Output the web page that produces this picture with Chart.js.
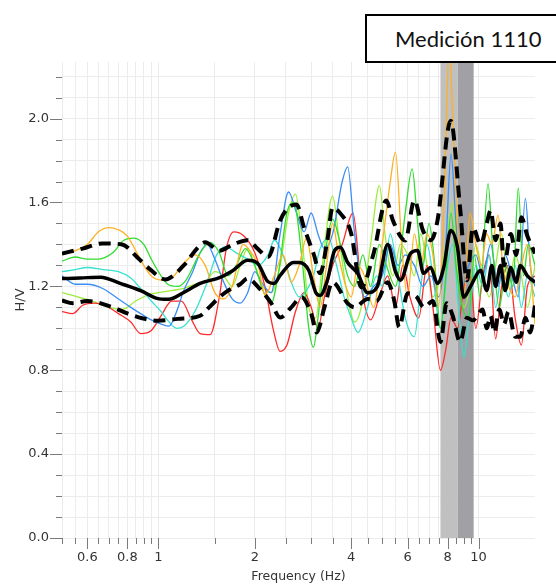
<!DOCTYPE html>
<html><head><meta charset="utf-8">
<script src="https://cdn.jsdelivr.net/npm/chart.js@4/dist/chart.umd.min.js"></script>
<style>
html,body{margin:0;padding:0;background:#fff;overflow:hidden;}
#wrap{position:relative;width:556px;height:588px;}
#legendBox{position:absolute;left:365px;top:14px;width:220px;height:45px;border:2px solid #000;background:#fff;font-family:Lato,"Open Sans",sans-serif;font-size:22px;line-height:45px;padding-left:28px;color:#111;white-space:nowrap;}
</style></head>
<body>
<div id="wrap"><canvas id="c" width="556" height="588"></canvas><div id="legendBox">Medición 1110</div></div>
<script>
// ---- data ----
const xTickVals = [0.5,0.55,0.6,0.65,0.7,0.75,0.8,0.85,0.9,0.95,1,1.5,2,2.5,3,3.5,4,4.5,5,5.5,6,6.5,7,7.5,8,8.5,9,9.5,10];
const xLabels = [0.6,0.8,1,2,4,6,8,10];
const yTickVals = [0,0.1,0.2,0.3,0.4,0.5,0.6,0.7,0.8,0.9,1.0,1.1,1.2,1.3,1.4,1.5,1.6,1.7,1.8,1.9,2.0,2.1,2.2];
const yLabels = [0,0.4,0.8,1.2,1.6,2.0];
const bandEdges = [7.6,8.6,9.65];

const meanF = [0.5,0.57,0.66,0.76,0.88,0.99,1.075,1.2,1.35,1.56,1.71,1.9,2.04,2.2,2.3,2.4,2.64,2.75,2.95,3.1,3.2,3.37,3.55,3.7,3.9,4.19,4.5,4.83,5.2,5.5,5.7,6.13,6.45,6.73,7.08,7.44,7.78,8.18,8.59,8.98,9.44,10.15,10.6,11.0,11.3,11.7,12.1,12.6,13.1,13.5,14.2,15];
const meanV = [1.237,1.24,1.244,1.214,1.18,1.143,1.138,1.171,1.214,1.243,1.276,1.324,1.31,1.222,1.214,1.252,1.314,1.314,1.276,1.171,1.157,1.229,1.371,1.386,1.314,1.262,1.17,1.2,1.40,1.27,1.229,1.357,1.371,1.262,1.29,1.214,1.29,1.467,1.386,1.148,1.2,1.276,1.18,1.3,1.2,1.3,1.18,1.29,1.22,1.30,1.25,1.22];

const upF = [0.5,0.58,0.67,0.77,0.86,0.95,1.05,1.2,1.33,1.4,1.55,1.71,1.9,2.04,2.2,2.4,2.55,2.7,2.85,3.05,3.2,3.37,3.5,3.7,4.0,4.3,4.7,5.15,5.4,5.9,6.3,6.7,7.1,7.44,8.18,8.75,9.2,9.6,10.15,10.6,10.9,11.3,11.7,12.0,12.6,13.1,13.6,14.2,15];
const upV = [1.357,1.38,1.405,1.40,1.338,1.276,1.233,1.30,1.386,1.41,1.37,1.40,1.42,1.38,1.34,1.514,1.576,1.59,1.48,1.357,1.262,1.42,1.576,1.548,1.452,1.195,1.357,1.61,1.514,1.419,1.61,1.467,1.42,1.514,1.99,1.576,1.229,1.48,1.40,1.50,1.562,1.42,1.50,1.30,1.45,1.35,1.53,1.44,1.357];

const loF = [0.5,0.54,0.6,0.72,0.8,0.89,1.0,1.15,1.35,1.44,1.55,1.65,1.8,1.9,2.04,2.25,2.4,2.6,2.8,3.0,3.12,3.3,3.5,3.9,4.1,4.5,4.8,5.2,5.45,5.65,6.0,6.4,6.75,7.2,7.6,7.95,8.3,8.75,9.2,9.6,10.3,10.6,10.9,11.2,11.6,12.0,12.4,13.0,13.5,14.0,14.5,15];
const loV = [1.133,1.12,1.13,1.10,1.071,1.048,1.036,1.045,1.06,1.10,1.148,1.18,1.21,1.238,1.20,1.12,1.052,1.10,1.148,1.07,0.98,1.10,1.22,1.119,1.10,1.14,1.13,1.22,1.133,1.005,1.167,1.15,1.10,1.13,0.935,1.12,1.06,0.935,1.05,1.038,1.09,1.00,1.06,0.98,1.09,1.02,1.08,0.96,0.96,1.05,0.98,1.11];

const orangeF = [0.5,0.55,0.6,0.65,0.7,0.75,0.8,0.85,0.9,0.95,1.02,1.1,1.2,1.3,1.4,1.5,1.6,1.7,1.84,1.95,2.05,2.15,2.3,2.45,2.6,2.75,2.9,3.05,3.2,3.35,3.5,3.65,3.85,4.0,4.2,4.4,4.7,5.0,5.3,5.5,5.75,6.0,6.3,6.6,6.9,7.2,7.5,7.8,8.1,8.35,8.7,9.0,9.4,9.8,10.2,10.6,11.0,11.5,11.9,12.4,13.0,13.6,14.2,15];
const orangeV = [1.35,1.37,1.40,1.46,1.48,1.47,1.44,1.37,1.30,1.25,1.23,1.24,1.31,1.35,1.30,1.17,1.14,1.20,1.40,1.36,1.30,1.16,1.25,1.35,1.22,1.30,1.43,1.25,1.10,1.30,1.50,1.35,1.20,1.15,1.30,1.25,1.10,1.40,1.70,1.84,1.40,1.15,1.45,1.30,1.45,1.35,1.10,1.60,2.35,1.90,1.35,1.15,1.55,1.40,1.30,1.45,1.40,1.54,1.30,1.20,1.15,1.30,1.40,1.02];

const greenF = [0.5,0.55,0.6,0.65,0.72,0.78,0.84,0.9,0.95,1.0,1.07,1.15,1.22,1.35,1.45,1.55,1.65,1.75,1.87,2.0,2.12,2.25,2.38,2.52,2.65,2.8,2.95,3.05,3.15,3.35,3.5,3.7,3.9,4.1,4.35,4.6,4.9,5.15,5.5,5.9,6.2,6.45,6.7,7.0,7.3,7.6,7.9,8.2,8.5,8.9,9.3,9.7,10.1,10.7,11.1,11.6,12.2,12.8,13.3,13.8,14.3,15];
const greenV = [1.32,1.34,1.33,1.33,1.36,1.42,1.43,1.40,1.33,1.27,1.21,1.20,1.23,1.36,1.41,1.36,1.25,1.30,1.38,1.30,1.18,1.12,1.28,1.55,1.60,1.35,1.00,0.91,1.05,1.40,1.52,1.40,1.25,1.20,1.35,1.20,1.40,1.30,1.20,1.55,1.76,1.50,1.30,1.50,1.30,1.00,1.25,1.55,1.30,1.10,1.05,1.35,1.15,1.69,1.35,1.10,1.30,1.20,1.67,1.25,1.40,1.30];

const blueF = [0.5,0.55,0.6,0.67,0.75,0.82,0.88,0.95,1.02,1.08,1.14,1.2,1.28,1.35,1.42,1.5,1.6,1.7,1.8,1.9,2.0,2.1,2.25,2.4,2.55,2.7,2.85,3.0,3.15,3.3,3.5,3.75,3.9,4.1,4.4,4.7,5.0,5.3,5.6,5.9,6.3,6.7,7.1,7.5,7.9,8.2,8.5,8.9,9.3,9.8,10.3,10.9,11.5,12.1,12.7,13.3,14.0,14.5,15];
const blueV = [1.25,1.21,1.21,1.19,1.14,1.10,1.07,1.04,1.02,1.01,1.08,1.18,1.27,1.36,1.40,1.33,1.22,1.14,1.12,1.17,1.27,1.22,1.17,1.45,1.65,1.55,1.46,1.55,1.45,1.38,1.45,1.70,1.77,1.45,1.15,1.20,1.25,1.40,1.30,1.35,1.30,1.20,1.25,1.15,1.40,1.83,1.50,1.20,1.30,1.35,1.25,1.40,1.20,1.35,1.25,1.15,1.62,1.30,1.20];

const cyanF = [0.5,0.55,0.6,0.67,0.75,0.82,0.88,0.95,1.02,1.08,1.14,1.2,1.3,1.42,1.52,1.62,1.75,1.9,2.05,2.2,2.3,2.45,2.6,2.75,2.9,3.05,3.2,3.4,3.6,3.8,4.0,4.2,4.5,4.8,5.0,5.3,5.6,5.9,6.3,6.6,6.9,7.2,7.6,8.0,8.3,8.7,9.0,9.4,9.8,10.3,10.8,11.3,11.8,12.4,13.0,13.6,14.2,15];
const cyanV = [1.27,1.28,1.29,1.28,1.27,1.24,1.19,1.13,1.08,1.03,1.00,1.01,1.08,1.22,1.35,1.39,1.36,1.33,1.30,1.35,1.42,1.35,1.22,1.15,1.18,1.25,1.38,1.43,1.30,1.15,1.05,0.98,1.10,1.25,1.20,1.45,1.25,1.05,0.96,1.20,1.40,1.25,1.00,1.30,1.40,1.05,0.86,1.10,1.30,1.20,1.35,1.10,1.25,1.15,1.30,1.10,1.25,1.15];

const redF = [0.5,0.54,0.58,0.63,0.68,0.75,0.82,0.88,0.95,1.02,1.1,1.18,1.27,1.35,1.45,1.55,1.63,1.72,1.85,2.0,2.15,2.28,2.4,2.52,2.68,2.85,3.0,3.15,3.3,3.5,3.75,4.05,4.3,4.6,4.9,5.2,5.5,5.8,6.1,6.5,6.9,7.2,7.6,7.9,8.2,8.6,9.0,9.4,9.8,10.3,10.8,11.3,11.8,12.4,13.0,13.6,14.2,15];
const redV = [1.08,1.07,1.11,1.12,1.11,1.07,1.03,0.975,0.99,1.06,1.13,1.13,1.04,0.975,0.97,1.15,1.38,1.46,1.44,1.36,1.20,1.00,0.89,0.92,1.08,1.17,1.10,1.00,1.15,1.30,1.40,1.55,1.20,1.04,1.15,1.25,1.10,1.30,1.15,1.05,1.30,1.10,0.80,0.90,1.05,1.00,1.20,1.25,1.00,1.25,1.35,0.95,1.20,1.30,1.05,0.92,1.20,1.25];

const ygreenF = [0.5,0.56,0.62,0.7,0.77,0.85,0.93,1.0,1.1,1.2,1.3,1.4,1.5,1.6,1.7,1.8,1.9,2.0,2.12,2.25,2.4,2.55,2.68,2.8,2.95,3.1,3.25,3.5,3.65,3.85,4.1,4.3,4.6,4.9,5.1,5.4,5.7,6.0,6.3,6.6,6.9,7.2,7.6,8.0,8.3,8.6,9.0,9.4,9.8,10.3,10.8,11.3,11.8,12.4,13.0,13.6,14.2,15];
const ygreenV = [1.17,1.15,1.13,1.10,1.09,1.13,1.16,1.17,1.18,1.19,1.21,1.22,1.27,1.25,1.20,1.30,1.38,1.30,1.20,1.17,1.30,1.55,1.64,1.45,1.10,1.05,1.30,1.63,1.45,1.20,1.03,1.10,1.40,1.68,1.45,1.25,1.40,1.35,1.25,1.45,1.30,1.15,1.25,1.45,1.60,1.30,1.10,1.20,1.40,1.25,1.15,1.30,1.45,1.20,1.35,1.25,1.10,1.30];

// ---- build ----
const pts = (f, v) => f.map((x, i) => ({x: x, y: v[i]}));
const thin = (label, f, v, color) => ({label, data: pts(f, v), borderColor: color, borderWidth: 1.3, pointRadius: 0, tension: 0.4, cubicInterpolationMode: 'monotone', fill: false});
const isIn = (arr, v) => arr.some(a => Math.abs(a - v) < 1e-6);

const decor = {
  id: 'decor',
  beforeDatasetsDraw(chart) {
    const {ctx, chartArea: a, scales: {x}} = chart;
    const p = bandEdges.map(v => x.getPixelForValue(v));
    ctx.save();
    ctx.fillStyle = '#c0c0c0';
    ctx.fillRect(p[0], a.top, p[1] - p[0], a.bottom - a.top);
    ctx.fillStyle = '#a1a1a5';
    ctx.fillRect(p[1], a.top, p[2] - p[1], a.bottom - a.top);
    ctx.restore();
  },
  afterDraw(chart) {
    const {ctx, chartArea: a, scales: {x, y}} = chart;
    ctx.save();
    ctx.strokeStyle = '#7a7a7a';
    ctx.lineWidth = 1;
    ctx.beginPath();
    yTickVals.forEach(v => {
      const py = Math.round(y.getPixelForValue(v)) + 0.5;
      const len = isIn(yLabels, v) ? 12 : 6;
      ctx.moveTo(a.left - len, py); ctx.lineTo(a.left, py);
    });
    xTickVals.forEach(v => {
      const px = Math.round(x.getPixelForValue(v)) + 0.5;
      const len = isIn(xLabels, v) ? 11 : 6;
      ctx.moveTo(px, a.bottom); ctx.lineTo(px, a.bottom + len);
    });
    ctx.stroke();
    ctx.restore();
  }
};

const tickFont = {family: '"DejaVu Sans", Verdana, sans-serif', size: 13};

new Chart(document.getElementById('c'), {
  type: 'line',
  data: {
    datasets: [
      {label: 'Mean', data: pts(meanF, meanV), borderColor: '#000', borderWidth: 3.5, pointRadius: 0, tension: 0.4, cubicInterpolationMode: 'monotone', fill: false},
      {label: 'Upper', data: pts(upF, upV), borderColor: '#000', borderWidth: 4, borderDash: [12, 7], pointRadius: 0, tension: 0.4, cubicInterpolationMode: 'monotone', fill: false},
      {label: 'Lower', data: pts(loF, loV), borderColor: '#000', borderWidth: 4, borderDash: [12, 7], pointRadius: 0, tension: 0.4, cubicInterpolationMode: 'monotone', fill: false},
      thin('Orange', orangeF, orangeV, '#ffb020'),
      thin('Green', greenF, greenV, '#2fdc2f'),
      thin('Blue', blueF, blueV, '#3a8ef6'),
      thin('Cyan', cyanF, cyanV, '#36e2cf'),
      thin('Red', redF, redV, '#ff2a2a'),
      thin('YellowGreen', ygreenF, ygreenV, '#9cee3a')
    ]
  },
  options: {
    responsive: false,
    animation: false,
    devicePixelRatio: 1,
    layout: {padding: {top: 62, right: 21, left: 0, bottom: 0}},
    plugins: {legend: {display: false}, tooltip: {enabled: false}},
    scales: {
      x: {
        type: 'logarithmic', min: 0.5, max: 15,
        afterBuildTicks: s => { s.ticks = xTickVals.map(v => ({value: v})); },
        afterFit: s => { s.height = 50; },
        grid: {color: '#ececec', drawTicks: false},
        border: {display: false},
        ticks: {autoSkip: false, maxRotation: 0, padding: 12, color: '#333', font: tickFont,
          callback: v => isIn(xLabels, v) ? String(v) : ''},
        title: {display: true, text: 'Frequency (Hz)', color: '#333', font: {family: '"DejaVu Sans", Verdana, sans-serif', size: 12.5}, padding: {top: 0, bottom: 4}}
      },
      y: {
        type: 'linear', min: 0, max: 2.27,
        afterBuildTicks: s => { s.ticks = yTickVals.map(v => ({value: v})); },
        afterFit: s => { s.width = 62; },
        grid: {color: '#ececec', drawTicks: false},
        border: {display: false},
        ticks: {autoSkip: false, padding: 13, color: '#333', font: tickFont,
          callback: v => isIn(yLabels, v) ? v.toFixed(1) : ''},
        title: {display: true, text: 'H/V', color: '#333', font: {family: '"DejaVu Sans", Verdana, sans-serif', size: 13}, padding: {top: 13, bottom: 0}}
      }
    }
  },
  plugins: [decor]
});
</script>
</body></html>
